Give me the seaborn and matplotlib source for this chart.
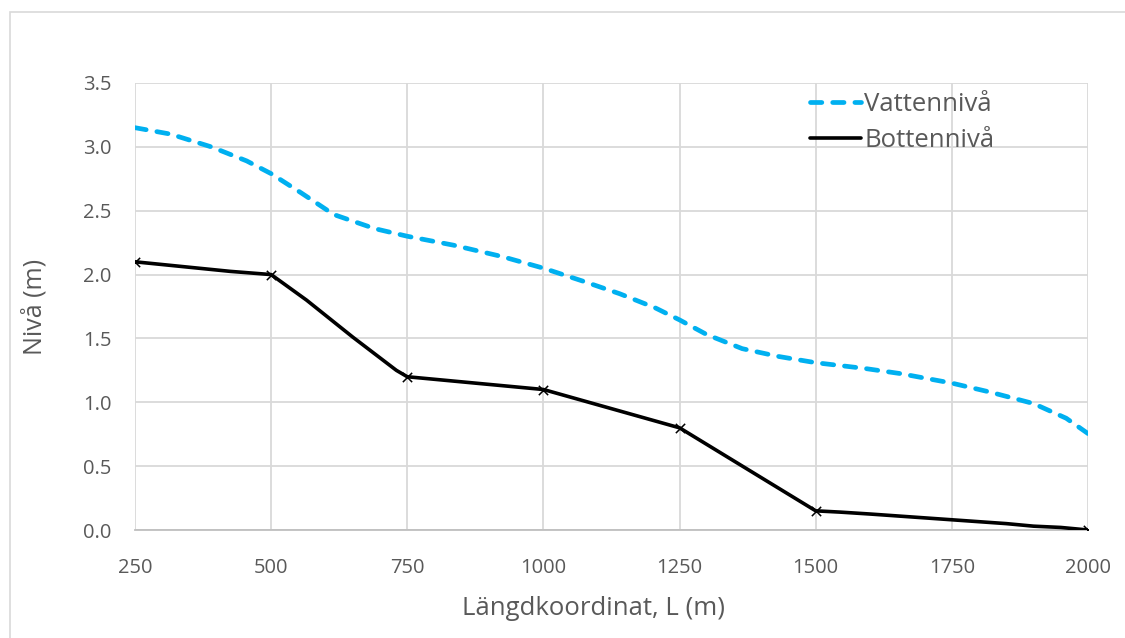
import matplotlib
matplotlib.use("Agg")
import matplotlib.pyplot as plt
from matplotlib.patches import Rectangle
import seaborn as sns
import pandas as pd

# ---- data ----
water_x = [250, 315, 390, 455, 500, 555, 615, 690, 750, 835, 925, 1000, 1075, 1140,
           1205, 1250, 1300, 1365, 1430, 1500, 1590, 1655, 1750, 1820, 1900, 1960, 2000]
water_y = [3.15, 3.10, 3.00, 2.89, 2.79, 2.64, 2.47, 2.36, 2.30, 2.23, 2.14, 2.05, 1.945, 1.85,
           1.74, 1.645, 1.53, 1.42, 1.36, 1.31, 1.265, 1.225, 1.15, 1.08, 0.99, 0.875, 0.755]

bottom_x = [250, 425, 500, 565, 650, 730, 750, 1000, 1250, 1500, 1545, 1600, 1650,
            1700, 1750, 1800, 1850, 1900, 1950, 2000]
bottom_y = [2.10, 2.025, 2.00, 1.80, 1.51, 1.25, 1.20, 1.10, 0.80, 0.15, 0.14, 0.125, 0.11,
            0.095, 0.08, 0.065, 0.05, 0.03, 0.02, 0.0]

marker_x = [250, 500, 750, 1000, 1250, 1500, 2000]
marker_y = [2.10, 2.00, 1.20, 1.10, 0.80, 0.15, 0.0]

x_ticks = [250, 500, 750, 1000, 1250, 1500, 1750, 2000]
y_ticks = [0.0, 0.5, 1.0, 1.5, 2.0, 2.5, 3.0, 3.5]
y_ticklabels = ["0.0", "0.5", "1.0", "1.5", "2.0", "2.5", "3.0", "3.5"]

label_water = "Vattennivå"
label_bottom = "Bottennivå"
x_label = "Längdkoordinat, L (m)"
y_label = "Nivå (m)"

# ---- style ----
sns.set_style("white")
plt.rcParams["font.family"] = ["Open Sans", "DejaVu Sans"]
text_color = "#595959"
grid_color = "#D9D9D9"
blue = "#00B0F0"

fig = plt.figure(figsize=(11.25, 6.38), dpi=100)
W, H = 1125, 638
left, right, top, bottom = 135, 1088, 83, 530
ax = fig.add_axes([left / W, 1 - bottom / H, (right - left) / W, (bottom - top) / H])

df_w = pd.DataFrame({"x": water_x, "y": water_y})
df_b = pd.DataFrame({"x": bottom_x, "y": bottom_y})
df_m = pd.DataFrame({"x": marker_x, "y": marker_y})

sns.lineplot(data=df_w, x="x", y="y", ax=ax, color=blue, linewidth=3.4,
             linestyle=(0, (2.4, 2.3)), dash_capstyle="round", sort=False,
             label=label_water, zorder=4)
sns.lineplot(data=df_b, x="x", y="y", ax=ax, color="black", linewidth=2.6,
             sort=False, label=label_bottom, zorder=5)
sns.scatterplot(data=df_m, x="x", y="y", ax=ax, marker="x", color="black",
                s=45, linewidth=1.1, zorder=6, legend=False)

ax.set_xlim(250, 2000)
ax.set_ylim(0, 3.5)
ax.set_xticks(x_ticks)
ax.set_xticklabels([str(v) for v in x_ticks])
ax.set_yticks(y_ticks)
ax.set_yticklabels(y_ticklabels)
ax.grid(True, color=grid_color, linewidth=1.3)
ax.set_axisbelow(True)
for s in ["top", "right", "left"]:
    ax.spines[s].set_visible(False)
ax.spines["bottom"].set_color("#BFBFBF")
ax.spines["bottom"].set_linewidth(1.3)
ax.tick_params(axis="both", length=0, labelsize=14.5, colors=text_color)
ax.tick_params(axis="x", pad=20)
ax.tick_params(axis="y", pad=17)

ax.set_xlabel(x_label, fontsize=18.5, color=text_color)
ax.xaxis.set_label_coords((594 - left) / (right - left), -(596 - bottom) / (bottom - top))
ax.set_ylabel(y_label, fontsize=18, color=text_color)
ax.yaxis.set_label_coords((47 - left) / (right - left), 0.5)

handles, labels = ax.get_legend_handles_labels()
leg = ax.legend(handles, labels, loc="upper left", bbox_to_anchor=((797 - left) / (right - left), 1.008),
                frameon=False, fontsize=18.5, handlelength=2.0, handletextpad=0.12,
                labelspacing=0.4, borderaxespad=0.1)
for t in leg.get_texts():
    t.set_color(text_color)

# outer chart-area border (light grey), running off the right and bottom edges
fig.patches.append(Rectangle((10 / W, -0.1), 1.2, 1 - 12 / H + 0.1, transform=fig.transFigure,
                             fill=False, edgecolor=grid_color, linewidth=1.2))

fig.savefig("out.png", dpi=100, facecolor="white")
